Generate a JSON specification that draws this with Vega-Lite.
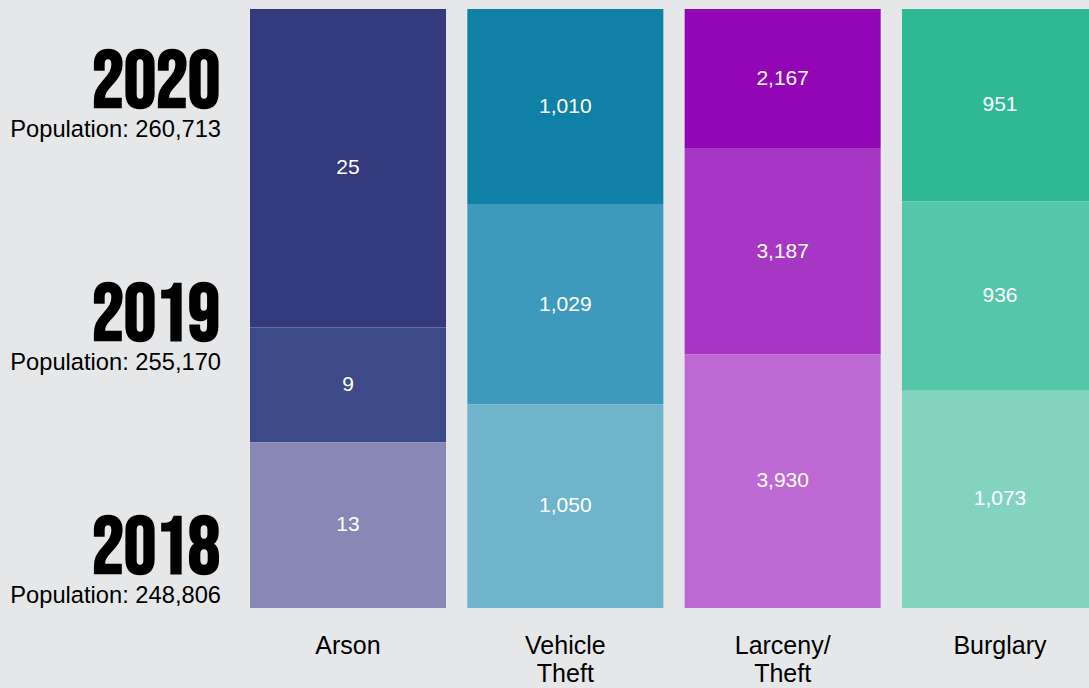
{
  "$schema": "https://vega.github.io/schema/vega-lite/v6.json",
  "width": 848,
  "height": 599,
  "autosize": {"type": "none"},
  "padding": {"left": 250, "top": 9, "right": -9, "bottom": 80},
  "background": "#e6e7e9",
  "config": {
    "view": {"stroke": null},
    "axis": {"grid": false},
    "axisX": {
      "title": null,
      "labelFont": "Liberation Sans",
      "labelFontSize": 25,
      "labelColor": "#000000",
      "labelPadding": 25,
      "labelAngle": 0,
      "labelBaseline": "top",
      "labelLineHeight": 28,
      "ticks": false,
      "tickSize": 0,
      "domain": false,
      "labelExpr": "split(replace(datum.label, '/', '/ '), ' ')"
    }
  },
  "datasets": {
    "crimes": [
      {"category": "Arson", "year": 2020, "count": 25},
      {"category": "Arson", "year": 2019, "count": 9},
      {"category": "Arson", "year": 2018, "count": 13},
      {"category": "Vehicle Theft", "year": 2020, "count": 1010},
      {"category": "Vehicle Theft", "year": 2019, "count": 1029},
      {"category": "Vehicle Theft", "year": 2018, "count": 1050},
      {"category": "Larceny/Theft", "year": 2020, "count": 2167},
      {"category": "Larceny/Theft", "year": 2019, "count": 3187},
      {"category": "Larceny/Theft", "year": 2018, "count": 3930},
      {"category": "Burglary", "year": 2020, "count": 951},
      {"category": "Burglary", "year": 2019, "count": 936},
      {"category": "Burglary", "year": 2018, "count": 1073}
    ],
    "years": [
      {"year": 2020, "population": 260713},
      {"year": 2019, "population": 255170},
      {"year": 2018, "population": 248806}
    ]
  },
  "encoding": {
    "x": {
      "field": "category",
      "type": "nominal",
      "sort": ["Arson", "Vehicle Theft", "Larceny/Theft", "Burglary"],
      "scale": {"domain": ["Arson", "Vehicle Theft", "Larceny/Theft", "Burglary"], "paddingInner": 0.098, "paddingOuter": 0}
    }
  },
  "layer": [
    {
      "data": {"name": "crimes"},
      "transform": [{"filter": "datum.category === 'Arson'"}],
      "mark": {"type": "bar"},
      "encoding": {
        "y": {"field": "count", "type": "quantitative", "stack": "normalize", "axis": null},
        "order": {"field": "year", "sort": "ascending"},
        "color": {"field": "year", "type": "ordinal", "scale": {"domain": [2020, 2019, 2018], "range": ["#353a7e", "#3c4a8a", "#8788b5"]}, "legend": null}
      }
    },
    {
      "data": {"name": "crimes"},
      "transform": [{"filter": "datum.category === 'Vehicle Theft'"}],
      "mark": {"type": "bar"},
      "encoding": {
        "y": {"field": "count", "type": "quantitative", "stack": "normalize", "axis": null},
        "order": {"field": "year", "sort": "ascending"},
        "color": {"field": "year", "type": "ordinal", "scale": {"domain": [2020, 2019, 2018], "range": ["#0f81a6", "#3e9abd", "#6fb4cb"]}, "legend": null}
      }
    },
    {
      "data": {"name": "crimes"},
      "transform": [{"filter": "datum.category === 'Larceny/Theft'"}],
      "mark": {"type": "bar"},
      "encoding": {
        "y": {"field": "count", "type": "quantitative", "stack": "normalize", "axis": null},
        "order": {"field": "year", "sort": "ascending"},
        "color": {"field": "year", "type": "ordinal", "scale": {"domain": [2020, 2019, 2018], "range": ["#9206b6", "#a836c4", "#be68d4"]}, "legend": null}
      }
    },
    {
      "data": {"name": "crimes"},
      "transform": [{"filter": "datum.category === 'Burglary'"}],
      "mark": {"type": "bar"},
      "encoding": {
        "y": {"field": "count", "type": "quantitative", "stack": "normalize", "axis": null},
        "order": {"field": "year", "sort": "ascending"},
        "color": {"field": "year", "type": "ordinal", "scale": {"domain": [2020, 2019, 2018], "range": ["#2db993", "#55c6aa", "#82d4bf"]}, "legend": null}
      }
    },
    {
      "data": {"name": "crimes"},
      "mark": {"type": "text", "font": "Liberation Sans", "fontSize": 21, "color": "#ffffff", "baseline": "middle"},
      "encoding": {
        "y": {"field": "count", "type": "quantitative", "stack": "normalize", "bandPosition": 0.5, "axis": null},
        "order": {"field": "year", "sort": "ascending"},
        "text": {"field": "count", "type": "quantitative", "format": ","}
      }
    },
    {
      "data": {"name": "years"},
      "mark": {"type": "text", "align": "right", "baseline": "alphabetic", "dx": -30, "dy": 31.5, "font": "Bebas Neue, League Gothic, Oswald, Noto Sans ExtraCondensed, Noto Sans Condensed, Roboto Condensed, DejaVu Sans Condensed", "fontWeight": "bold", "fontSize": 80, "color": "#000000"},
      "encoding": {
        "x": {"datum": "Arson", "type": "nominal", "bandPosition": 0},
        "y": {"field": "year", "type": "ordinal", "scale": {"type": "point", "domain": [2020, 2019, 2018], "padding": 0.2855}, "axis": null},
        "text": {"field": "year", "type": "nominal"}
      }
    },
    {
      "data": {"name": "years"},
      "mark": {"type": "text", "align": "right", "baseline": "alphabetic", "dx": -29, "dy": 61.5, "font": "Liberation Sans", "fontSize": 23.7, "color": "#000000", "text": {"expr": "'Population: ' + format(datum.population, ',')"}},
      "encoding": {
        "x": {"datum": "Arson", "type": "nominal", "bandPosition": 0},
        "y": {"field": "year", "type": "ordinal", "scale": {"type": "point", "domain": [2020, 2019, 2018], "padding": 0.2855}, "axis": null}
      }
    }
  ],
  "resolve": {"scale": {"y": "independent", "color": "independent"}}
}
